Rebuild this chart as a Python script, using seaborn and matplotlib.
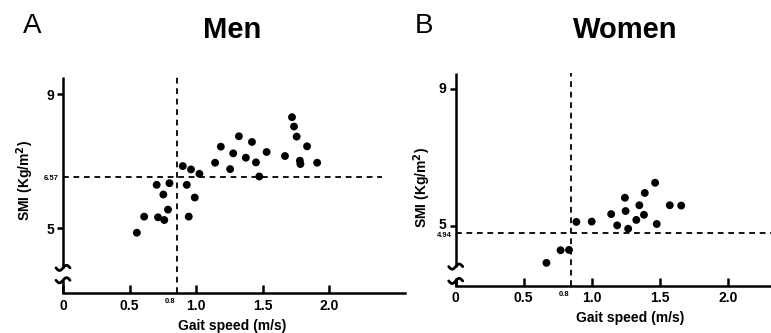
import numpy as np
import pandas as pd
import matplotlib
matplotlib.use("Agg")
import matplotlib.pyplot as plt
import matplotlib.transforms as mtransforms
import seaborn as sns

# ---- data ----
men_gait = [0.555, 0.61, 0.714, 0.761, 0.789, 0.754, 0.704, 0.80, 0.90, 0.962,
            1.025, 0.93, 0.99, 0.945, 1.143, 1.186, 1.256, 1.279, 1.322, 1.374,
            1.42, 1.45, 1.475, 1.53, 1.668, 1.721, 1.736, 1.756, 1.834, 1.78,
            1.784, 1.91]
men_smi = [4.87, 5.35, 5.33, 5.25, 5.56, 6.01, 6.30, 6.35, 6.86, 6.76,
           6.63, 6.30, 5.92, 5.35, 6.96, 7.44, 6.77, 7.24, 7.75, 7.11,
           7.58, 6.97, 6.55, 7.28, 7.16, 8.32, 8.04, 7.74, 7.45, 7.02,
           6.92, 6.96]
women_gait = [0.667, 0.771, 0.833, 0.887, 1.00, 1.143, 1.187, 1.244, 1.249,
              1.268, 1.328, 1.35, 1.384, 1.39, 1.466, 1.478, 1.574, 1.658]
women_smi = [3.91, 4.28, 4.29, 5.11, 5.12, 5.34, 5.01, 5.82, 5.43,
             4.91, 5.17, 5.60, 5.32, 5.96, 6.26, 5.05, 5.60, 5.59]

x_ticks = [0, 0.5, 1.0, 1.5, 2.0]
x_tick_labels = ["0", "0.5", "1.0", "1.5", "2.0"]
y_ticks = [5, 9]
y_tick_labels = ["5", "9"]

men_cut_x, men_cut_x_label = 0.86, "0.8"
men_cut_y, men_cut_y_label = 6.52, "6.57"
women_cut_x, women_cut_x_label = 0.85, "0.8"
women_cut_y, women_cut_y_label = 4.79, "4.94"

panels = [
    dict(letter="A", title="Men", gait=men_gait, smi=men_smi,
         cx=men_cut_x, cxl=men_cut_x_label, cy=men_cut_y, cyl=men_cut_y_label,
         rect=[63/771, 40/333, 342/771, 216/333], xlim=(0, 2.57), ylim=(3.07, 9.52),
         hline_end=2.40, breaks=(3.82, 3.45), cyl_dy=-1.0, ytl_up=0),
    dict(letter="B", title="Women", gait=women_gait, smi=women_smi,
         cx=women_cut_x, cxl=women_cut_x_label, cy=women_cut_y, cyl=women_cut_y_label,
         rect=[455.7/771, 47.3/333, 315.3/771, 212.4/333], xlim=(0, 2.318), ylim=(3.24, 9.47),
         hline_end=2.318, breaks=(3.80, 3.38), cyl_dy=-2.2, ytl_up=2),
]

sns.set_style("ticks")
plt.rcParams["font.family"] = ["Liberation Sans", "DejaVu Sans"]
plt.rcParams["font.weight"] = "bold"
plt.rcParams["text.color"] = "black"
plt.rcParams["axes.labelcolor"] = "black"
plt.rcParams["mathtext.default"] = "bf"

fig = plt.figure(figsize=(7.71, 3.33), dpi=100)

letter_pos = {"A": (32/771, 1 - 26/333), "B": (424/771, 1 - 26/333)}
title_pos = {"Men": (232/771, 1 - 30/333), "Women": (625/771, 1 - 30/333)}
ylab_pos = {"Men": (25/771, 1 - 180/333), "Women": (422/771, 1 - 187/333)}
xlab_pos = {"Men": (232/771, 1 - 326/333), "Women": (630/771, 1 - 318/333)}

for p in panels:
    ax = fig.add_axes(p["rect"])
    df = pd.DataFrame({"gait": p["gait"], "smi": p["smi"]})
    sns.scatterplot(data=df, x="gait", y="smi", ax=ax, color="black", s=32,
                    edgecolor="none", linewidth=0, clip_on=False, zorder=3)
    ax.set_xlim(*p["xlim"])
    ax.set_ylim(*p["ylim"])
    ax.set_xlabel("")
    ax.set_ylabel("")

    dash = (0, (3.2, 2.6))
    ax.plot([p["cx"], p["cx"]], [p["ylim"][0], p["ylim"][1]], color="black",
            lw=1.3, ls=dash, clip_on=False, zorder=2)
    ax.plot([0, p["hline_end"]], [p["cy"], p["cy"]], color="black",
            lw=1.3, ls=dash, clip_on=False, zorder=2)

    for s in ["top", "right", "left"]:
        ax.spines[s].set_visible(False)
    ax.spines["bottom"].set_linewidth(1.8)
    ax.spines["bottom"].set_color("black")

    # broken y axis drawn manually
    b_hi, b_lo = p["breaks"]
    ax.plot([0, 0], [b_hi, p["ylim"][1]], color="black", lw=1.8,
            clip_on=False, solid_capstyle="butt", zorder=4)
    ax.plot([0, 0], [p["ylim"][0], b_lo], color="black", lw=1.8,
            clip_on=False, solid_capstyle="butt", zorder=4)
    w_px = p["rect"][2] * 771
    h_px = p["rect"][3] * 333
    t = np.linspace(-1, 1, 40)
    for yb in (b_hi, b_lo):
        yf = (yb - p["ylim"][0]) / (p["ylim"][1] - p["ylim"][0])
        ax.plot(7 * t / w_px, yf + 2.6 * np.sin(np.pi * t) / h_px, color="black",
                lw=2.0, transform=ax.transAxes, clip_on=False, zorder=5)

    ax.set_xticks(x_ticks)
    ax.set_xticklabels(x_tick_labels)
    ax.set_yticks(y_ticks)
    ax.set_yticklabels(y_tick_labels)
    ax.tick_params(axis="x", direction="in", length=6, width=1.8, pad=4,
                   labelsize=10, colors="black")
    ax.tick_params(axis="y", direction="out", length=4.5, width=1.8, pad=2,
                   labelsize=10, colors="black")
    for lab in ax.get_xticklabels() + ax.get_yticklabels():
        lab.set_fontweight("bold")
    if p["ytl_up"]:
        off = mtransforms.ScaledTranslation(0, p["ytl_up"] / 100, fig.dpi_scale_trans)
        for lab in ax.get_yticklabels():
            lab.set_transform(lab.get_transform() + off)

    # small cutoff labels
    ax.annotate(p["cxl"], xy=(p["cx"], 0), xycoords=("data", "axes fraction"),
                xytext=(-1.5, -3.5), textcoords="offset points", ha="right", va="top",
                fontsize=5.5, fontweight="bold")
    ax.annotate(p["cyl"], xy=(0, p["cy"]), xycoords=("axes fraction", "data"),
                xytext=(-3, p["cyl_dy"]), textcoords="offset points", ha="right",
                va="center", fontsize=5.5, fontweight="bold")

    fig.text(*letter_pos[p["letter"]], p["letter"], fontsize=20, fontweight="normal",
             ha="center", va="center")
    fig.text(*title_pos[p["title"]], p["title"], fontsize=21, fontweight="bold",
             ha="center", va="center")
    fig.text(*ylab_pos[p["title"]], "SMI (Kg/m$^2$)", fontsize=10,
             fontweight="bold", rotation=90, ha="center", va="center")
    fig.text(*xlab_pos[p["title"]], "Gait speed (m/s)", fontsize=10,
             fontweight="bold", ha="center", va="center")

fig.savefig("out.png", dpi=100)
